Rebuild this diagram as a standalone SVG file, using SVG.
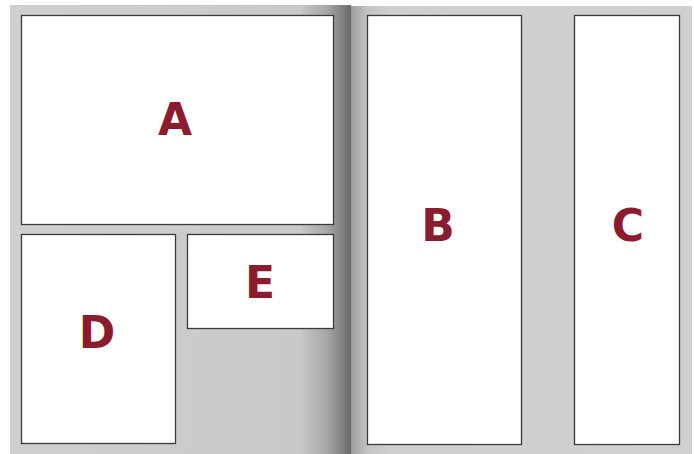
<svg xmlns="http://www.w3.org/2000/svg" width="694" height="454" viewBox="0 0 694 454">
<defs>
<linearGradient id="gl" x1="10" y1="0" x2="351" y2="0" gradientUnits="userSpaceOnUse">
<stop offset="0" stop-color="#cfcfcf"/>
<stop offset="0.85" stop-color="#c9c9c9"/>
<stop offset="0.93" stop-color="#a6a6a6"/>
<stop offset="1" stop-color="#6a6a6a"/>
</linearGradient>
<linearGradient id="gr" x1="351" y1="0" x2="692" y2="0" gradientUnits="userSpaceOnUse">
<stop offset="0" stop-color="#9e9e9e"/>
<stop offset="0.05" stop-color="#c4c4c4"/>
<stop offset="0.12" stop-color="#cfcfcf"/>
<stop offset="1" stop-color="#d0d0d0"/>
</linearGradient>
<style>
.box{fill:#fff;stroke:#3a3a3a;stroke-width:1.3}
.lbl{font-family:"DejaVu Sans","Liberation Sans",sans-serif;font-weight:bold;font-size:44px;fill:#8b1c30;text-anchor:middle;dominant-baseline:central}
</style>
</defs>
<rect width="694" height="454" fill="#fff"/>
<rect x="10" y="5" width="341" height="449" fill="url(#gl)"/>
<rect x="351" y="6" width="341" height="448" fill="url(#gr)"/>
<g id="A"><rect class="box" x="21.5" y="15.5" width="312" height="209"/><text class="lbl" x="175" y="119">A</text></g>
<g id="D"><rect class="box" x="21.5" y="234.5" width="154" height="209"/><text class="lbl" x="97" y="332">D</text></g>
<g id="E"><rect class="box" x="187.5" y="234.5" width="146" height="94"/><text class="lbl" x="260" y="282">E</text></g>
<g id="B"><rect class="box" x="367.5" y="15.5" width="154" height="429"/><text class="lbl" x="438" y="225">B</text></g>
<g id="C"><rect class="box" x="574.5" y="15.5" width="105" height="429"/><text class="lbl" x="628" y="225">C</text></g>
<g id="connectors"/>
</svg>
